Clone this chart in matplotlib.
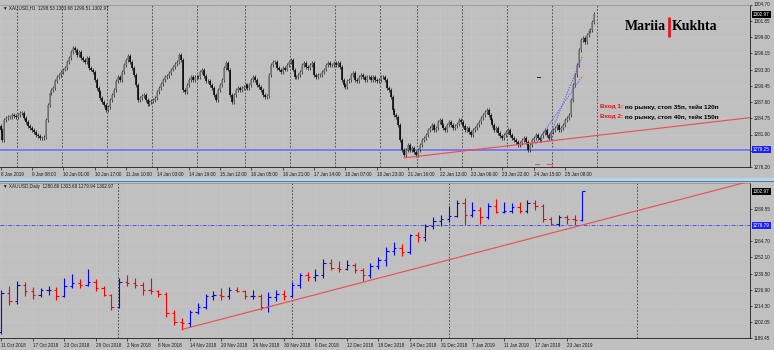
import numpy as np
import matplotlib
matplotlib.use("Agg")
import matplotlib.pyplot as plt
from matplotlib.patches import Rectangle

plt.rcParams['font.family'] = ['Liberation Sans', 'DejaVu Sans']

W, H = 774, 350
BG = "#c0c0c0"
GRID = "#d4d4d4"
AXC = "#1a1a1a"

# ---------------- H1 panel: XAUUSD,H1  (close of each hourly bar)
h1_open0 = 1283.4
h1_close = [
    1282.7, 1281.0, 1284.5, 1284.8, 1285.0, 1285.0, 1285.4, 1285.2, 1285.0, 1285.4,
    1285.7, 1285.7, 1284.8, 1284.1, 1283.4, 1283.1, 1282.7, 1282.4, 1281.8, 1281.7,
    1281.3, 1281.3, 1281.5, 1284.5, 1287.1, 1289.2, 1289.7, 1290.1, 1291.2, 1291.9,
    1292.4, 1292.9, 1293.3, 1293.6, 1294.7, 1295.4, 1296.4, 1297.1, 1296.8, 1295.9,
    1296.4, 1295.4, 1295.0, 1294.7, 1295.4, 1293.6, 1293.3, 1292.9, 1291.5, 1290.1,
    1289.4, 1288.3, 1287.6, 1287.1, 1286.2, 1286.8, 1288.0, 1288.9, 1289.7, 1291.2,
    1291.9, 1291.5, 1292.9, 1294.1, 1295.0, 1295.7, 1294.7, 1293.6, 1292.4, 1290.6,
    1288.0, 1288.3, 1288.7, 1288.9, 1288.0, 1287.3, 1287.6, 1287.8, 1288.0, 1288.3,
    1289.4, 1290.1, 1290.8, 1291.5, 1291.9, 1292.2, 1292.7, 1293.3, 1293.8, 1294.3,
    1294.7, 1295.9, 1295.0, 1289.7, 1289.4, 1290.6, 1291.5, 1291.9, 1291.5, 1292.0,
    1291.9, 1291.9, 1292.9, 1293.3, 1292.2, 1291.2, 1291.2, 1290.6, 1290.1, 1288.9,
    1288.0, 1289.7, 1290.6, 1291.5, 1293.6, 1294.5, 1293.3, 1288.9, 1287.6, 1288.9,
    1289.7, 1290.1, 1289.7, 1290.1, 1290.3, 1290.5, 1290.1, 1290.6, 1291.5, 1292.0,
    1291.5, 1290.6, 1290.3, 1289.7, 1288.9, 1288.5, 1288.7, 1292.4, 1294.1, 1294.7,
    1294.7, 1293.6, 1293.3, 1292.9, 1293.6, 1293.3, 1294.1, 1294.7, 1295.0, 1293.3,
    1291.9, 1291.9, 1292.4, 1292.9, 1294.1, 1294.5, 1293.8, 1293.6, 1294.1, 1294.5,
    1292.4, 1291.9, 1292.4, 1292.4, 1292.9, 1293.3, 1294.1, 1294.5, 1294.1, 1294.1,
    1294.5, 1294.1, 1294.5, 1293.8, 1291.5, 1290.6, 1290.3, 1291.2, 1291.5, 1292.4,
    1292.7, 1291.5, 1291.2, 1291.9, 1292.4, 1291.9, 1291.5, 1291.9, 1291.9, 1291.5,
    1291.9, 1291.5, 1291.2, 1291.5, 1291.9, 1292.0, 1291.5, 1290.1, 1289.7, 1288.5,
    1286.2, 1285.4, 1285.0, 1283.6, 1281.0, 1279.2, 1278.3, 1279.2, 1280.1, 1279.2,
    1279.5, 1278.8, 1278.3, 1279.2, 1280.1, 1281.0, 1281.3, 1281.8, 1282.7, 1283.1,
    1283.6, 1282.7, 1283.1, 1284.1, 1284.5, 1283.6, 1283.1, 1282.7, 1283.6, 1284.1,
    1283.6, 1283.1, 1283.4, 1283.8, 1284.5, 1284.1, 1283.4, 1282.7, 1283.1, 1282.4,
    1281.8, 1282.7, 1283.1, 1283.6, 1284.1, 1284.8, 1285.4, 1285.9, 1286.2, 1285.4,
    1284.5, 1283.6, 1282.7, 1283.1, 1282.2, 1281.7, 1281.3, 1281.8, 1282.4, 1282.7,
    1281.8, 1281.3, 1281.0, 1280.6, 1280.1, 1280.4, 1281.0, 1281.3, 1280.6, 1279.2,
    1280.1, 1281.0, 1281.3, 1281.8, 1281.3, 1281.0, 1281.7, 1282.2, 1282.7, 1281.8,
    1281.3, 1282.4, 1282.7, 1283.1, 1283.6, 1282.7, 1283.1, 1283.6, 1284.5, 1284.8,
    1285.4, 1288.0, 1290.6, 1292.4, 1294.1, 1296.8, 1298.5, 1298.9, 1298.2, 1299.4,
    1300.0, 1300.3, 1301.7, 1302.97,
]
h1_xlabels = ["8 Jan 2019", "9 Jan 08:00", "10 Jan 01:00", "10 Jan 17:00", "11 Jan 10:00",
              "14 Jan 03:00", "14 Jan 19:00", "15 Jan 12:00", "16 Jan 05:00", "16 Jan 21:00",
              "17 Jan 14:00", "18 Jan 07:00", "18 Jan 23:00", "21 Jan 16:00", "22 Jan 13:00",
              "23 Jan 06:00", "23 Jan 22:00", "24 Jan 15:00", "25 Jan 08:00"]
h1_yticks = [1276.20, 1279.05, 1281.90, 1284.75, 1287.60, 1290.45, 1293.30,
             1296.15, 1299.00, 1301.85, 1304.70]
h1_day_sep = [8.5, 31.5, 54.5, 77.5, 100.5, 124.5, 147.5, 170.5, 193.5,
              212.5, 235.5, 258.5, 281.5, 304.5]
h1_level = 1279.25
h1_trend = [(206, 1277.8), (286, 1281.0)]
trade_open = [(273, 1280.2), (279, 1280.7)]
trade_close = [(297, 1292.2), (297, 1295.7)]
trade_stop = [(272.5, 274.5, 1276.7), (279.0, 281.5, 1276.8)]
mark_dash = (273.5, 275.0, 1292.0)

# ---------------- Daily panel: XAUUSD,Daily  11 Oct 2018 - 25 Jan 2019
d_open = [1194.5, 1224.5, 1218.0, 1231.0, 1226.0, 1223.0, 1227.0, 1227.0, 1222.0, 1230.0,
          1232.0, 1231.0, 1233.0, 1228.0, 1223.0, 1214.0, 1233.0, 1232.0, 1231.0, 1227.0,
          1226.0, 1224.0, 1209.0, 1202.0, 1201.0, 1210.0, 1214.0, 1222.0, 1223.0, 1222.0,
          1227.0, 1226.0, 1222.0, 1222.0, 1214.0, 1221.0, 1224.0, 1222.0, 1231.0, 1238.0,
          1237.0, 1238.0, 1248.0, 1244.0, 1243.0, 1246.0, 1242.0, 1238.0, 1245.0, 1250.0,
          1257.0, 1259.0, 1256.0, 1269.0, 1268.0, 1276.0, 1280.0, 1282.0, 1284.0, 1294.0,
          1285.0, 1289.0, 1283.0, 1292.0, 1287.0, 1288.0, 1291.0, 1288.0, 1294.0, 1292.0,
          1282.0, 1278.0, 1283.0, 1282.0, 1280.89]
d_high = [1227.0, 1230.0, 1233.5, 1233.0, 1229.0, 1228.0, 1230.0, 1229.0, 1236.0, 1239.0,
          1235.0, 1243.0, 1235.0, 1230.0, 1224.0, 1236.0, 1238.0, 1236.0, 1233.0, 1236.0,
          1227.0, 1225.0, 1211.0, 1205.0, 1211.0, 1217.0, 1224.0, 1226.0, 1228.0, 1229.0,
          1229.0, 1227.0, 1227.0, 1224.0, 1225.0, 1227.0, 1227.0, 1233.0, 1240.0, 1241.0,
          1243.0, 1251.0, 1251.0, 1249.0, 1250.0, 1248.0, 1244.0, 1248.0, 1252.0, 1260.0,
          1264.0, 1262.0, 1270.0, 1272.0, 1278.0, 1283.0, 1285.0, 1292.0, 1296.0, 1298.0,
          1295.0, 1291.0, 1294.0, 1297.0, 1295.0, 1294.0, 1295.0, 1296.0, 1296.0, 1293.0,
          1283.0, 1285.0, 1285.0, 1285.0, 1303.68]
d_low = [1192.5, 1215.0, 1216.0, 1222.0, 1220.0, 1221.0, 1223.0, 1219.0, 1221.0, 1228.0,
         1228.0, 1230.0, 1226.0, 1222.0, 1211.0, 1213.0, 1230.0, 1228.0, 1223.0, 1224.0,
         1221.0, 1206.0, 1200.0, 1196.0, 1198.0, 1208.0, 1212.0, 1219.0, 1219.0, 1220.0,
         1225.0, 1220.0, 1220.0, 1211.0, 1210.0, 1218.0, 1219.0, 1221.0, 1228.0, 1234.0,
         1234.0, 1236.0, 1242.0, 1241.0, 1242.0, 1240.0, 1234.0, 1236.0, 1243.0, 1245.0,
         1254.0, 1253.0, 1255.0, 1264.0, 1265.0, 1274.0, 1276.0, 1279.0, 1283.0, 1277.0,
         1283.0, 1278.0, 1282.0, 1286.0, 1286.0, 1286.0, 1286.0, 1286.0, 1289.0, 1279.0,
         1277.0, 1276.0, 1278.0, 1277.0, 1279.94]
d_close = [1224.5, 1218.0, 1231.0, 1226.0, 1223.0, 1227.0, 1227.0, 1222.0, 1230.0, 1232.0,
           1231.0, 1233.0, 1228.0, 1223.0, 1214.0, 1233.0, 1232.0, 1231.0, 1227.0, 1226.0,
           1224.0, 1209.0, 1202.0, 1201.0, 1210.0, 1214.0, 1222.0, 1223.0, 1222.0, 1227.0,
           1226.0, 1222.0, 1222.0, 1214.0, 1221.0, 1224.0, 1222.0, 1231.0, 1238.0, 1237.0,
           1238.0, 1248.0, 1244.0, 1243.0, 1246.0, 1242.0, 1238.0, 1245.0, 1250.0, 1257.0,
           1259.0, 1256.0, 1269.0, 1268.0, 1276.0, 1280.0, 1282.0, 1284.0, 1294.0, 1285.0,
           1289.0, 1283.0, 1292.0, 1287.0, 1288.0, 1291.0, 1288.0, 1294.0, 1292.0, 1282.0,
           1278.0, 1283.0, 1282.0, 1280.89, 1302.97]
d_xlabels = ["11 Oct 2018", "17 Oct 2018", "23 Oct 2018", "29 Oct 2018", "2 Nov 2018",
             "8 Nov 2018", "14 Nov 2018", "20 Nov 2018", "26 Nov 2018", "30 Nov 2018",
             "6 Dec 2018", "12 Dec 2018", "18 Dec 2018", "24 Dec 2018", "31 Dec 2018",
             "7 Jan 2019", "11 Jan 2019", "17 Jan 2019", "23 Jan 2019"]
d_yticks = [1189.45, 1202.05, 1214.30, 1226.90, 1239.50, 1252.10, 1264.70, 1289.55]
d_month_sep = [14.8, 37.0, 57.0, 81.0]
d_level = 1276.79
d_trend = [(23, 1196.3), (71.2, 1272.6)]


def px_axes(x0, y0, x1, y1):
    return fig.add_axes([x0 / W, 1 - y1 / H, (x1 - x0) / W, (y1 - y0) / H])


def style_axes(ax):
    ax.set_facecolor(BG)
    ax.yaxis.tick_right()
    ax.spines["left"].set_visible(False)
    ax.spines["top"].set_color("#8c8c8c")
    ax.spines["top"].set_linewidth(0.5)
    for s in ("right", "bottom"):
        ax.spines[s].set_color(AXC)
        ax.spines[s].set_linewidth(0.6)
    ax.tick_params(axis="y", length=1.5, width=0.5, pad=1, labelsize=3.3, colors=AXC)
    ax.tick_params(axis="x", length=2.5, width=0.5, pad=1, labelsize=3.3, colors=AXC)
    ax.grid(True, color=GRID, linestyle=(0, (1, 2)), linewidth=0.5)
    ax.set_axisbelow(True)


def price_box(ax, y, text, fc):
    ax.text(1.004, y, text, transform=ax.get_yaxis_transform(), ha="left", va="center",
            fontsize=3.3, color="white", clip_on=False, zorder=10,
            bbox=dict(boxstyle="square,pad=0.2", fc=fc, ec="none"))


def trend(ax, pts, right, **kw):
    (xa, ya), (xb, yb) = pts
    k = (yb - ya) / (xb - xa)
    ax.plot([xa, right], [ya, ya + k * (right - xa)], **kw)


fig = plt.figure(figsize=(W / 100, H / 100), dpi=100, facecolor=BG)

# ---------- top panel (H1)
ax1 = px_axes(0, 4.5, 750, 167)
style_axes(ax1)
x1r = (750 - 0.5) / 1.96
ax1.set_xlim(-0.26, x1r)
ax1.set_ylim(1276.20, 1304.70)
ax1.set_yticks(h1_yticks)
# the 1279.05 label sits under the blue price box of the level line
ax1.set_yticklabels(["" if abs(v - h1_level) < 1 else f"{v:.2f}" for v in h1_yticks])
ax1.set_xticks(range(0, 289, 16))
ax1.set_xticklabels(h1_xlabels, ha="left")

for xs in h1_day_sep:
    ax1.axvline(xs, color="#3a3a3a", lw=0.6, ls=(0, (2, 2)), zorder=1)

opens = [h1_open0] + h1_close[:-1]
idx = np.arange(len(h1_close))
lo = np.minimum(opens, h1_close)
hi = np.maximum(opens, h1_close)
up = np.array(h1_close) >= np.array(opens)
ax1.vlines(idx, lo - 0.35, hi + 0.35, color="black", lw=0.45, zorder=3)
ax1.vlines(idx[up], lo[up], np.maximum(hi[up], lo[up] + 0.08), color="#7a7a7a", lw=1.1, zorder=4)
ax1.vlines(idx[~up], lo[~up], np.maximum(hi[~up], lo[~up] + 0.08), color="black", lw=1.1, zorder=4)

ax1.axhline(h1_level, color="#7b7bea", lw=1.4, zorder=2)
trend(ax1, h1_trend, x1r, color="#ef4b4b", lw=0.8, zorder=5)
for (xo, po), (xc, pc) in zip(trade_open, trade_close):
    ax1.plot([xo, xc], [po, pc], color="#4b4bff", lw=0.6, ls=(0, (1.5, 1.5)), zorder=6)
    ax1.plot([xc], [pc], marker="s", ms=1.6, color="#f0c040", mec="none", zorder=7)
for xa, xb, ps in trade_stop:
    ax1.plot([xa, xb], [ps, ps], color="#ef4b4b", lw=0.7, zorder=6)
ax1.plot(mark_dash[:2], [mark_dash[2]] * 2, color="#202020", lw=0.7, zorder=6)

ax1.text(0.004, 0.995, "\u25bc XAUUSD,H1  1298.53 1303.68 1299.51 1302.97",
         transform=ax1.transAxes, va="top", ha="left", fontsize=3.3, color=AXC)
price_box(ax1, 1302.97, "1302.97", "black")
price_box(ax1, h1_level, f"{h1_level:.2f}", "#2020ff")

ax1.text(666 / 750, (167 - 27) / 162.5, "Mariia", transform=ax1.transAxes, ha="right",
         va="center", fontsize=10, fontweight="bold", family="Liberation Serif", color="black")
ax1.text(672 / 750, (167 - 27) / 162.5, "Kukhta", transform=ax1.transAxes, ha="left",
         va="center", fontsize=10, fontweight="bold", family="Liberation Serif", color="black")
ax1.plot([668.5 / 750] * 2, [(167 - 37) / 162.5, (167 - 17) / 162.5], transform=ax1.transAxes,
         color="#e8141e", lw=2.0, solid_capstyle="butt")

for k, (ty, rest) in enumerate([(107, " по рынку, стоп 35п, тейк 120п"),
                                 (117, " по рынку, стоп 40п, тейк 150п")]):
    t = ax1.text(600 / 750, (167 - ty) / 162.5, f"Вход {k + 1}:", transform=ax1.transAxes,
                 ha="left", va="center", fontsize=4.6, fontweight="bold", color="#e8141e")
    ax1.annotate(rest, xy=(1, 0.5), xycoords=t, ha="left", va="center",
                 fontsize=4.6, fontweight="bold", color="black")

# ---------- divider between panels
fig.patches.append(Rectangle((0, 1 - 181 / H), 1, 3 / H, transform=fig.transFigure,
                             fc="#b3d6ee", ec="none"))
fig.patches.append(Rectangle((0, 1 - 182.3 / H), 1, 1.2 / H, transform=fig.transFigure,
                             fc="#4e7f92", ec="none"))

# ---------- bottom panel (Daily)
ax2 = px_axes(0, 183, 750, 338.3)
style_axes(ax2)
x2r = (750 - 1.5) / 7.85
ax2.set_xlim(-0.19, x2r)
ax2.set_ylim(1189.45, 1309.5)
ax2.set_yticks(d_yticks)
ax2.set_yticklabels([f"{v:.2f}" for v in d_yticks])
ax2.set_xticks(range(0, 73, 4))
ax2.set_xticklabels(d_xlabels, ha="left")

for xs in d_month_sep:
    ax2.axvline(xs, color="#3a3a3a", lw=0.6, ls=(0, (2, 2)), zorder=1)

dx = np.arange(len(d_open))
cols = ["#0000ff" if c >= o else "#ff0000" for o, c in zip(d_open, d_close)]
ax2.vlines(dx, d_low, d_high, colors=cols, lw=0.8, zorder=4)
ax2.hlines(d_open, dx - 0.3, dx, colors=cols, lw=0.8, zorder=4)
ax2.hlines(d_close, dx, dx + 0.3, colors=cols, lw=0.8, zorder=4)

ax2.axhline(d_level, color="#5050ff", lw=0.7, ls=(0, (4, 1.5, 1, 1.5)), zorder=2)
trend(ax2, d_trend, x2r, color="#ef4b4b", lw=0.8, zorder=5)

ax2.text(0.004, 0.995, "\u25bc XAUUSD,Daily  1280.89 1303.68 1279.94 1302.97",
         transform=ax2.transAxes, va="top", ha="left", fontsize=3.3, color=AXC)
price_box(ax2, 1302.97, "1302.97", "black")
price_box(ax2, d_level, f"{d_level:.2f}", "#2020ff")

fig.savefig("out.png", dpi=100, facecolor=BG)
